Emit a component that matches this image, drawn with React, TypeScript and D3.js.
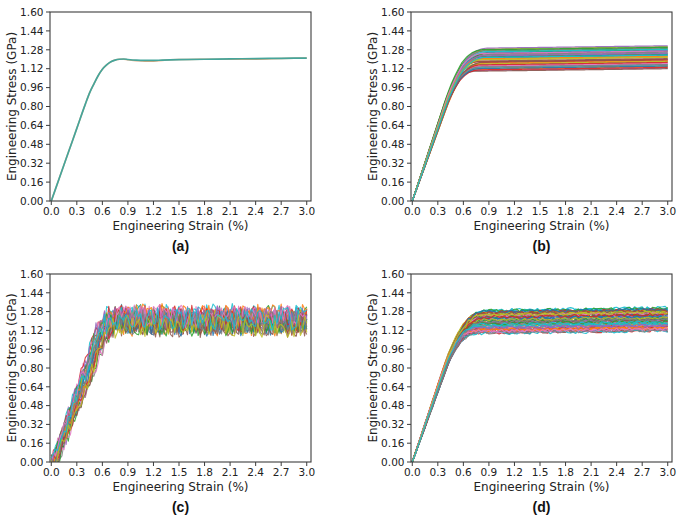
import React from "react";
import * as d3 from "d3";

// ---------- shared axis content ----------
const xTicks = [0, 0.3, 0.6, 0.9, 1.2, 1.5, 1.8, 2.1, 2.4, 2.7, 3.0];
const yTicks = [0, 0.16, 0.32, 0.48, 0.64, 0.8, 0.96, 1.12, 1.28, 1.44, 1.6];
const xLabel = "Engineering Strain (%)";
const yLabel = "Engineering Stress (GPa)";
const panelTags = ["(a)", "(b)", "(c)", "(d)"];
const tab10 = ["#1f77b4", "#ff7f0e", "#2ca02c", "#d62728", "#9467bd", "#8c564b", "#e377c2", "#7f7f7f", "#bcbd22", "#17becf"];

// ---------- panel (a): single averaged curve (two nearly coincident traces) ----------
const strainA = [0, 0.1, 0.2, 0.3, 0.4, 0.45, 0.5, 0.55, 0.6, 0.65, 0.7, 0.75, 0.8, 0.85, 0.9, 1.0, 1.1, 1.2, 1.3, 1.5, 1.8, 2.1, 2.4, 2.7, 3.0];
const stressA = [0, 0.205, 0.41, 0.615, 0.82, 0.915, 0.99, 1.06, 1.115, 1.152, 1.178, 1.193, 1.2, 1.202, 1.198, 1.192, 1.19, 1.19, 1.193, 1.197, 1.2, 1.203, 1.206, 1.208, 1.21];
const stressA2 = [0, 0.205, 0.41, 0.615, 0.82, 0.915, 0.99, 1.06, 1.115, 1.152, 1.178, 1.193, 1.2, 1.2, 1.195, 1.188, 1.183, 1.184, 1.19, 1.197, 1.2, 1.201, 1.2, 1.206, 1.21];

// ---------- knee shapes (normalised strain u = strain*E/P, normalised stress v = stress/P) ----------
const kneeU = [0, 0.7, 0.8, 0.9, 1.0, 1.1, 1.2, 1.3, 1.4, 1.6];
const kneeV = [0, 0.7, 0.785, 0.855, 0.915, 0.953, 0.979, 0.994, 1.0, 1.0];
const kneeCU = [0, 0.88, 0.96, 1.04, 1.12, 1.25];
const kneeCV = [0, 0.88, 0.945, 0.98, 0.996, 1.0];

// ---------- panel (b): plateau levels (GPa) and elastic slopes (GPa/%) ----------
const levelsB = [1.212, 1.118, 1.262, 1.165, 1.097, 1.238, 1.184, 1.131, 1.279, 1.149, 1.203, 1.109, 1.251, 1.172, 1.226, 1.092, 1.14, 1.268, 1.193, 1.124, 1.245, 1.158, 1.217, 1.103, 1.286, 1.177, 1.135, 1.232, 1.153, 1.256, 1.114, 1.198, 1.273, 1.145, 1.221, 1.168, 1.242, 1.127, 1.188, 1.207];
const modB = [2.08, 2.01, 2.15, 1.97, 2.11, 2.04, 2.18, 1.99, 2.06, 2.13, 2.02, 2.09, 1.96, 2.16, 2.05, 2.12, 1.98, 2.07, 2.14, 2.03, 2.1, 1.95, 2.17, 2.0, 2.08, 2.12, 2.04, 1.97, 2.15, 2.06, 2.01, 2.11, 2.19, 2.03, 2.09, 1.99, 2.13, 2.05, 2.07, 2.02];
const riseB = 0.028;

// ---------- panel (c): noisy curves ----------
const levelsC = [1.21, 1.17, 1.24, 1.19, 1.22, 1.16, 1.23, 1.18, 1.2, 1.25, 1.17, 1.22, 1.19, 1.24, 1.21, 1.16, 1.23, 1.18, 1.2, 1.22, 1.19, 1.25, 1.17, 1.21, 1.23, 1.18, 1.24, 1.2, 1.16, 1.22];
const modC = [1.9, 2.04, 1.8, 2.14, 1.94, 1.84, 2.08, 1.78, 1.98, 2.18, 1.87, 2.02, 1.82, 2.12, 1.92, 2.06, 1.79, 1.96, 2.16, 1.88, 2.0, 1.78, 2.1, 1.9, 2.2, 1.85, 1.98, 2.07, 1.82, 1.94];
const offC = [0.01, 0.05, 0.0, 0.03, 0.07, 0.02, 0.0, 0.06, 0.04, 0.01, 0.05, 0.02, 0.07, 0.0, 0.03, 0.01, 0.06, 0.02, 0.04, 0.0, 0.05, 0.03, 0.01, 0.06, 0.02, 0.07, 0.0, 0.04, 0.05, 0.01];

// ---------- panel (d): slightly noisy curves ----------
const levelsD = [1.205, 1.132, 1.268, 1.091, 1.176, 1.243, 1.118, 1.221, 1.157, 1.284, 1.104, 1.189, 1.252, 1.141, 1.213, 1.096, 1.167, 1.236, 1.125, 1.274, 1.182, 1.148, 1.228, 1.109, 1.197, 1.261, 1.136, 1.172, 1.247, 1.088, 1.209, 1.153, 1.279, 1.121, 1.186, 1.232, 1.101, 1.163, 1.255, 1.144, 1.217, 1.113, 1.193, 1.266, 1.128, 1.178, 1.239, 1.094, 1.201, 1.151, 1.271, 1.116, 1.169, 1.225, 1.138, 1.258, 1.106, 1.184, 1.245, 1.161];
const modD = [2.06, 2.12, 1.98, 2.15, 2.03, 2.09, 2.17, 2.0, 2.11, 2.05, 1.97, 2.14, 2.08, 2.02, 2.19, 2.04, 2.1, 1.96, 2.13, 2.07, 2.01, 2.16, 2.05, 2.11, 1.99, 2.08, 2.14, 2.03, 2.18, 2.06, 2.0, 2.12, 2.09, 1.98, 2.15, 2.04, 2.1, 2.02, 2.17, 2.07, 1.97, 2.13, 2.05, 2.11, 2.01, 2.16, 2.08, 1.99, 2.14, 2.03, 2.09, 2.18, 2.06, 2.0, 2.12, 2.04, 2.15, 1.98, 2.1, 2.07];
const riseD = 0.028;

// hand-typed fluctuation table
const noise = [
  0.42, -0.73, 0.15, 0.88, -0.31, -0.94, 0.57, 0.06, -0.48, 0.79,
  -0.12, 0.33, -0.86, 0.64, -0.27, 0.95, -0.59, 0.21, -0.04, 0.71,
  -0.83, 0.38, -0.66, 0.12, 0.9, -0.45, 0.27, -0.97, 0.53, -0.18,
  0.81, -0.36, 0.02, -0.77, 0.68, 0.19, -0.55, 0.92, -0.09, -0.69,
  0.47, -0.24, 0.84, -0.91, 0.31, 0.61, -0.42, -0.14, 0.76, -0.63,
  0.08, 0.99, -0.33, 0.45, -0.8, 0.24, -0.5, 0.67, -0.02, -0.88,
  0.36, 0.14, -0.72, 0.58, -0.2, 0.87, -0.39, 0.03, -0.61, 0.74,
  -0.96, 0.49, 0.1, -0.29, 0.83, -0.53, 0.29, -0.07, 0.62, -0.85,
  0.18, 0.94, -0.44, -0.16, 0.7, -0.68, 0.4, -0.99, 0.55, 0.05,
  -0.37, 0.8, -0.58, 0.22, -0.11, 0.65, -0.75,
];

type Pt = [number, number];
type Curve = { pts: Pt[]; color: string; width: number; opacity: number };

const kneeB = d3.scaleLinear().domain(kneeU).range(kneeV).clamp(true);
const kneeC = d3.scaleLinear().domain(kneeCU).range(kneeCV).clamp(true);

function buildCurves(): Curve[][] {
  const N = noise.length;
  const a: Curve[] = [
    { pts: strainA.map((s, i) => [s, stressA2[i]] as Pt), color: "#e0925a", width: 1.5, opacity: 0.8 },
    { pts: strainA.map((s, i) => [s, stressA[i]] as Pt), color: "#45a59b", width: 1.7, opacity: 1 },
  ];
  const gridB = d3.range(0, 3.0001, 0.02);
  const b: Curve[] = levelsB.map((P, i) => ({
    pts: gridB.map((s) => [s, P * kneeB((s * modB[i]) / P) + (riseB * s) / 3] as Pt),
    color: tab10[i % 10],
    width: 1.2,
    opacity: 0.9,
  }));
  const gridC = d3.range(0, 3.0001, 0.025);
  const c: Curve[] = levelsC.map((P, i) => {
    const stride = 1 + (i % 6);
    const off = i * 11;
    return {
      pts: gridC.map((s, j) => {
        const u = ((s - offC[i]) * modC[i]) / P;
        const amp = u < 0.9 ? 0.065 : 0.1;
        return [s, P * kneeC(u) + amp * noise[(j * stride + off) % N]] as Pt;
      }),
      color: tab10[i % 10],
      width: 1.1,
      opacity: 0.85,
    };
  });
  const gridD = d3.range(0, 3.0001, 0.03);
  const d: Curve[] = levelsD.map((P, i) => {
    const stride = 1 + (i % 7);
    const off = i * 5;
    return {
      pts: gridD.map((s, j) => {
        const u = (s * modD[i]) / P;
        const amp = u < 0.9 ? 0.005 : 0.013;
        return [s, P * kneeB(u) + (riseD * s) / 3 + amp * noise[(j * stride + off) % N]] as Pt;
      }),
      color: tab10[i % 10],
      width: 1.2,
      opacity: 0.9,
    };
  });
  return [a, b, c, d];
}

const boxes = [
  { x0: 50, x1: 311, y0: 12, y1: 201 },
  { x0: 411, x1: 672, y0: 12, y1: 201 },
  { x0: 50, x1: 311, y0: 274, y1: 462 },
  { x0: 411, x1: 672, y0: 274, y1: 462 },
];

const tickFont = "'DejaVu Sans', sans-serif";

function Panel({ k, box, curves, smooth }: { k: number; box: typeof boxes[0]; curves: Curve[]; smooth: boolean }) {
  const x = d3.scaleLinear().domain([-0.015, 3.05]).range([box.x0, box.x1]);
  const y = d3.scaleLinear().domain([0, 1.6]).range([box.y1, box.y0]);
  const line = d3
    .line<Pt>()
    .x((p) => x(p[0]))
    .y((p) => y(p[1]))
    .curve(smooth ? d3.curveMonotoneX : d3.curveLinear);
  const clipId = `clip${k}`;
  const cx = (box.x0 + box.x1) / 2;
  const cy = (box.y0 + box.y1) / 2;
  const spine = "#3c3c3c";
  return (
    <g>
      <defs>
        <clipPath id={clipId}>
          <rect x={box.x0} y={box.y0} width={box.x1 - box.x0} height={box.y1 - box.y0} />
        </clipPath>
      </defs>
      <g clipPath={`url(#${clipId})`}>
        {curves.map((c, i) => (
          <path key={i} d={line(c.pts) || ""} fill="none" stroke={c.color} strokeWidth={c.width} strokeOpacity={c.opacity} strokeLinejoin="round" />
        ))}
      </g>
      <rect x={box.x0} y={box.y0} width={box.x1 - box.x0} height={box.y1 - box.y0} fill="none" stroke={spine} strokeWidth={1.1} />
      {xTicks.map((t) => (
        <g key={"x" + t}>
          <line x1={x(t)} x2={x(t)} y1={box.y1} y2={box.y1 + 4} stroke={spine} strokeWidth={1} />
          <text x={x(t)} y={box.y1 + 14} fontSize={10.5} fontFamily={tickFont} textAnchor="middle" fill="#222">
            {d3.format(".1f")(t)}
          </text>
        </g>
      ))}
      {yTicks.map((t) => (
        <g key={"y" + t}>
          <line x1={box.x0 - 4} x2={box.x0} y1={y(t)} y2={y(t)} stroke={spine} strokeWidth={1} />
          <text x={box.x0 - 6.5} y={y(t)} dy="0.36em" fontSize={10.5} fontFamily={tickFont} textAnchor="end" fill="#222">
            {d3.format(".2f")(t)}
          </text>
        </g>
      ))}
      <text x={cx} y={box.y1 + 28.5} fontSize={12} fontFamily={tickFont} textAnchor="middle" fill="#222">
        {xLabel}
      </text>
      <text transform={`translate(${box.x0 - 38},${cy}) rotate(-90)`} dy="0.36em" fontSize={12} fontFamily={tickFont} textAnchor="middle" fill="#222">
        {yLabel}
      </text>
      <text x={cx} y={box.y1 + 50} fontSize={14} fontWeight="bold" fontFamily="'Liberation Sans', Arial, sans-serif" textAnchor="middle" fill="#111">
        {panelTags[k]}
      </text>
    </g>
  );
}

export default function App() {
  const all = buildCurves();
  return (
    <svg width={685} height={518} style={{ position: "absolute", left: 0, top: 0, display: "block" }}>
      <rect x={0} y={0} width={685} height={518} fill="#ffffff" />
      {boxes.map((b, k) => (
        <Panel key={k} k={k} box={b} curves={all[k]} smooth={k === 0} />
      ))}
    </svg>
  );
}
